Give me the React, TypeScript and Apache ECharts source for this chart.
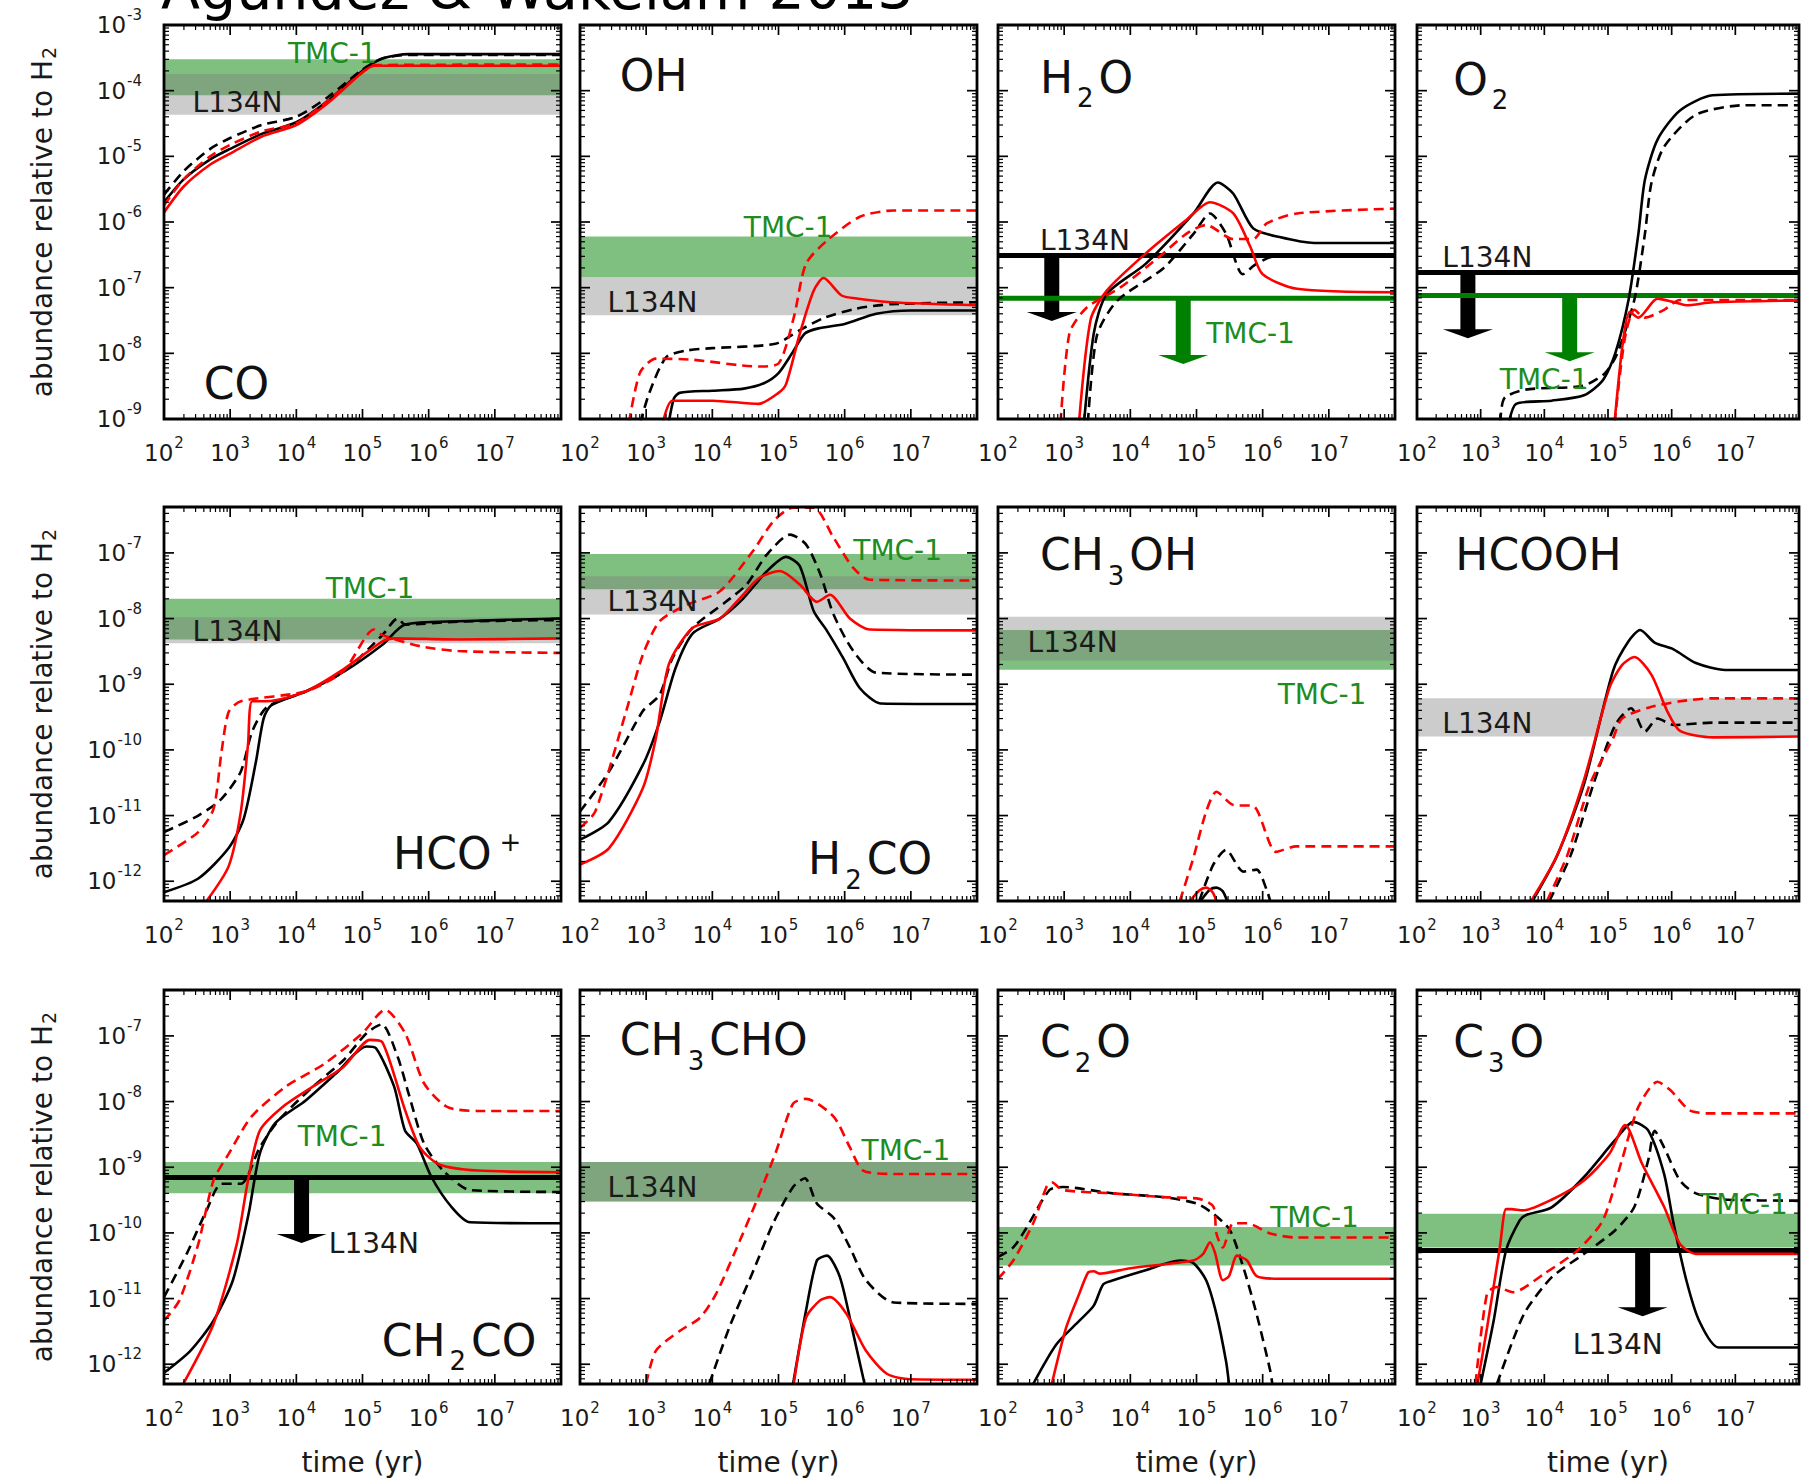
import React, { useEffect, useRef } from 'react';
import * as echarts from 'echarts';

const FONT = 'DejaVu Sans';
const INK = '#1a1a1a';
const RED = '#ff0000';
const GREEN = '#008000';
const GREEN_TEXT = '#1e8c1e';
const GREEN_BAND = 'rgba(0,128,0,0.5)';
const GRAY_BAND = 'rgba(128,128,128,0.4)';

// ---------- axes ----------
const X_MIN = 1e2;
const X_MAX = 1e8;
const ROW_Y_RANGES = [[1e-9, 1e-3], [5e-13, 5e-7], [5e-13, 5e-7]];
const X_HIDDEN_EXP = 8;
const MINOR_MULTS = [2, 3, 4, 5, 6, 7, 8, 9];

const TITLE = 'Agúndez & Wakelam 2013';
const Y_NAME = '{m|abundance relative to H}{sub|2}';
const X_NAME = 'time (yr)';

// ---------- layout ----------
const COL_LEFT = [164, 580, 998, 1417];
const ROW_TOP = [25, 507, 990];
const PANEL_W = 397;
const PANEL_H = 394;

// ---------- data: [time (yr), abundance] ----------
// CO
const CO_BLACK_SOLID = [[1e2,2e-6],[2e2,4.5e-6],[5e2,9e-6],[1e3,1.3e-5],[3e3,2.2e-5],[1e4,3.3e-5],[3e4,7e-5],[1e5,2e-4],[2e5,3.1e-4],[5e5,3.6e-4],[1e8,3.6e-4]];
const CO_BLACK_DASHED = [[1e2,2.6e-6],[2e2,6e-6],[5e2,1.3e-5],[1e3,1.9e-5],[3e3,3e-5],[1e4,4e-5],[3e4,8e-5],[1e5,2.1e-4],[2e5,3.1e-4],[5e5,3.5e-4],[1e8,3.5e-4]];
const CO_RED_SOLID = [[1e2,1.4e-6],[2e2,3.5e-6],[5e2,7.5e-6],[1e3,1.1e-5],[3e3,2e-5],[1e4,3e-5],[3e4,6.5e-5],[1e5,1.9e-4],[1.5e5,2.4e-4],[1e8,2.4e-4]];
const CO_RED_DASHED = [[1e2,1.8e-6],[2e2,4.5e-6],[5e2,1e-5],[1e3,1.5e-5],[3e3,2.4e-5],[1e4,3.2e-5],[3e4,7e-5],[1e5,1.9e-4],[1.5e5,2.45e-4],[1e8,2.5e-4]];
const CO_TMC1 = [8.5e-5, 3e-4];
const CO_L134N = [4.3e-5, 1.8e-4];

// OH
const OH_BLACK_SOLID = [[2e3,5e-10],[2.6e3,2e-9],[3.2e3,2.5e-9],[1e4,2.7e-9],[3e4,2.9e-9],[6e4,3.5e-9],[1e5,5e-9],[1.6e5,1e-8],[2.5e5,2e-8],[4e5,2.4e-8],[1e6,2.8e-8],[3e6,4e-8],[1e7,4.5e-8],[1e8,4.5e-8]];
const OH_BLACK_DASHED = [[7e2,5e-10],[1.1e3,2.4e-9],[2e3,8.7e-9],[4e3,1.1e-8],[1e4,1.2e-8],[9e4,1.4e-8],[2e5,2.2e-8],[5e5,3.5e-8],[1.5e6,4.8e-8],[5e6,5.6e-8],[1e8,6e-8]];
const OH_RED_SOLID = [[1.6e3,5e-10],[2.5e3,1.9e-9],[1e4,1.9e-9],[5e4,1.7e-9],[1e5,2.5e-9],[1.3e5,3.4e-9],[2.1e5,2e-8],[3.4e5,9e-8],[4.8e5,1.4e-7],[9e5,7.6e-8],[1.6e6,6.8e-8],[5e6,6e-8],[1e8,5.4e-8]];
const OH_RED_DASHED = [[5e2,5e-10],[8e2,5e-9],[1.4e3,8.3e-9],[5e3,8e-9],[5e4,6.3e-9],[1e5,7e-9],[1.7e5,3.5e-8],[2.6e5,2.3e-7],[5.4e5,5.2e-7],[1.7e6,1.2e-6],[5.5e6,1.5e-6],[1e8,1.5e-6]];
const OH_TMC1 = [1.45e-7, 6e-7];
const OH_L134N = [3.8e-8, 1.45e-7];

// H2O
const H2O_BLACK_SOLID = [[1.9e3,5e-10],[2.8e3,2e-8],[4.4e3,8e-8],[1.7e4,2.3e-7],[9e4,1.35e-6],[2.1e5,4e-6],[3.6e5,2.7e-6],[7.2e5,8e-7],[1.8e6,5.9e-7],[6e6,4.8e-7],[1e8,4.8e-7]];
const H2O_BLACK_DASHED = [[2.2e3,5e-10],[3.1e3,1.8e-8],[6.3e3,6.3e-8],[3.2e4,2e-7],[9e4,6.6e-7],[1.6e5,1.35e-6],[2.8e5,6.6e-7],[5e5,1.6e-7],[8e5,2.3e-7],[1.5e6,3e-7],[1e8,3e-7]];
const H2O_RED_SOLID = [[1.6e3,5e-10],[2.5e3,3.2e-8],[4.4e3,9e-8],[1.7e4,3.3e-7],[7e4,1.07e-6],[1.6e5,2e-6],[3.6e5,1.35e-6],[6.5e5,4.2e-7],[1e6,1.6e-7],[3.3e6,9.6e-8],[1e8,8.5e-8]];
const H2O_RED_DASHED = [[8.5e2,5e-10],[1.2e3,2e-8],[2.2e3,5e-8],[7e3,1e-7],[2.8e4,3e-7],[7e4,6.6e-7],[1.4e5,9e-7],[3.6e5,5.5e-7],[7.2e5,5.5e-7],[1.15e6,9.5e-7],[3.3e6,1.35e-6],[1e8,1.6e-6]];
const H2O_LIMITS = [[6.5e2, 3.1e-7, 3.1e-8, 0], [6.3e4, 6.9e-8, 6.9e-9, 1]]; // [t, limit, arrow tip, 0=L134N 1=TMC-1]

// O2
const O2_BLACK_SOLID = [[2.5e3,5e-10],[3.6e3,1.7e-9],[1.3e4,1.9e-9],[4.2e4,2.3e-9],[8.3e4,3.9e-9],[1.3e5,1e-8],[2.1e5,6.5e-8],[3e5,6.6e-7],[3.8e5,4.4e-6],[6e5,1.8e-5],[1.35e6,5e-5],[4.4e6,8.5e-5],[1e8,9e-5]];
const O2_BLACK_DASHED = [[2e3,5e-10],[2.3e3,2e-9],[5e3,2.8e-9],[4e4,3.2e-9],[9e4,5e-9],[1.4e5,1e-8],[2.6e5,6.6e-8],[3.8e5,6.6e-7],[4.8e5,3.9e-6],[7.6e5,1.4e-5],[2.4e6,4.3e-5],[1.4e7,6e-5],[1e8,6e-5]];
const O2_RED_SOLID = [[1.2e5,5e-10],[1.7e5,1.4e-8],[2.2e5,4.3e-8],[3e5,3.5e-8],[6e5,6.8e-8],[1.1e6,6e-8],[1.7e6,5.4e-8],[4.4e6,6e-8],[1e8,6.4e-8]];
const O2_RED_DASHED = [[1.2e5,5e-10],[1.8e5,1.5e-8],[2.6e5,4.6e-8],[3.8e5,3.5e-8],[7.6e5,4.6e-8],[1.35e6,6.5e-8],[4.4e6,6.5e-8],[1e8,6.5e-8]];
const O2_LIMITS = [[6.3e2, 1.7e-7, 1.7e-8, 0], [2.5e4, 7.6e-8, 7.6e-9, 1]];

// HCO+
const HCOP_BLACK_SOLID = [[1e2,6.8e-13],[3.3e2,1.1e-12],[9.5e2,3.2e-12],[1.6e3,8.9e-12],[2.45e3,6.6e-11],[3.2e3,3e-10],[4.2e3,4.8e-10],[1.4e4,7.8e-10],[5.2e4,1.55e-9],[2e5,4e-9],[4.4e5,8.1e-9],[2.8e6,9.1e-9],[1e8,1e-8]];
const HCOP_BLACK_DASHED = [[1e2,5.6e-12],[3.3e2,1e-11],[7.4e2,1.8e-11],[1.45e3,4.7e-11],[2.15e3,1.9e-10],[3.6e3,4.5e-10],[1.4e4,7.8e-10],[5.2e4,1.55e-9],[2e5,5.6e-9],[3.4e5,1e-8],[4.4e5,8.1e-9],[2.8e6,9e-9],[1e8,9.5e-9]];
const HCOP_RED_SOLID = [[4.4e2,5e-13],[9.5e2,1.7e-12],[1.45e3,1.15e-11],[1.86e3,1.2e-10],[2.15e3,5.5e-10],[3.6e3,5.5e-10],[1.4e4,7.8e-10],[5.2e4,1.7e-9],[2e5,4.5e-9],[3e5,5e-9],[2.8e6,4.8e-9],[1e8,5e-9]];
const HCOP_RED_DASHED = [[1e2,2.5e-12],[3.3e2,5.6e-12],[5.6e2,1.26e-11],[7.4e2,9.3e-11],[9.5e2,3.8e-10],[1.45e3,5.5e-10],[1.4e4,7.8e-10],[5.2e4,1.6e-9],[1.5e5,6.8e-9],[2e5,5.6e-9],[7.4e5,3.8e-9],[2.8e6,3.2e-9],[1e8,3e-9]];
const HCOP_TMC1 = [4.8e-9, 2e-8];
const HCOP_L134N = [4.2e-9, 1.05e-8];

// H2CO
const H2CO_BLACK_SOLID = [[1e2,4.3e-12],[2.75e2,8.1e-12],[8.9e2,5.9e-11],[1.6e3,2.7e-10],[2.8e3,1.8e-9],[5.1e3,6e-9],[1.3e4,1e-8],[2.9e4,2e-8],[6.6e4,5.2e-8],[1.3e5,8.7e-8],[2.1e5,6.3e-8],[3.4e5,1.3e-8],[5.4e5,6.5e-9],[9.5e5,2.5e-9],[1.7e6,8.7e-10],[3.5e6,5.1e-10],[1e8,5e-10]];
const H2CO_BLACK_DASHED = [[1e2,1.15e-11],[2.75e2,4.7e-11],[8.9e2,3.9e-10],[1.6e3,6.9e-10],[2.5e3,2.5e-9],[5e3,7.2e-9],[1.6e4,1.8e-8],[3.3e4,3.3e-8],[6.6e4,9.3e-8],[1.5e5,1.9e-7],[2.6e5,1.35e-7],[4.3e5,4.7e-8],[6.8e5,1.15e-8],[1.35e6,3.2e-9],[3e6,1.5e-9],[1e8,1.4e-9]];
const H2CO_RED_SOLID = [[1e2,1.8e-12],[2.75e2,3.2e-12],[8.9e2,2.6e-11],[1.4e3,1.5e-10],[2.2e3,2e-9],[5e3,7.2e-9],[1.3e4,1e-8],[2.9e4,2.3e-8],[5.2e4,4.2e-8],[1.05e5,5.3e-8],[2.1e5,3.3e-8],[3.8e5,1.8e-8],[6e5,2.3e-8],[1.2e6,1e-8],[2.4e6,6.8e-9],[1e8,6.6e-9]];
const H2CO_RED_DASHED = [[1e2,6.5e-12],[1.7e2,1.15e-11],[5e2,3.9e-10],[8.9e2,2.8e-9],[1.6e3,9.1e-9],[4e3,1.6e-8],[1.3e4,2.6e-8],[4.2e4,1.1e-7],[8.3e4,3e-7],[1.66e5,4.9e-7],[3.4e5,4.9e-7],[6.8e5,1.7e-7],[1.35e6,5.9e-8],[2.4e6,3.9e-8],[1e8,3.8e-8]];
const H2CO_TMC1 = [2.8e-8, 9.6e-8];
const H2CO_L134N = [1.15e-8, 4.4e-8];

// CH3OH
const CH3OH_BLACK_SOLID = [[1.15e5,5e-13],[1.6e5,7.5e-13],[2e5,8e-13],[2.5e5,7e-13],[2.9e5,5e-13]];
const CH3OH_BLACK_DASHED = [[1.1e5,5e-13],[1.8e5,1.8e-12],[2.8e5,3e-12],[5.1e5,1.4e-12],[8.1e5,1.5e-12],[1.15e6,7.4e-13],[1.3e6,5e-13]];
const CH3OH_RED_SOLID = [[8e4,5e-13],[1.1e5,7.2e-13],[1.4e5,8e-13],[1.75e5,6.8e-13],[2e5,5e-13]];
const CH3OH_RED_DASHED = [[5.6e4,5e-13],[8.9e4,2.2e-12],[1.4e5,1.15e-11],[2e5,2.3e-11],[3.6e5,1.45e-11],[7.2e5,1.4e-11],[1.6e6,2.8e-12],[3.2e6,3.4e-12],[1e8,3.4e-12]];
const CH3OH_TMC1 = [1.66e-9, 6.7e-9];
const CH3OH_L134N = [2.3e-9, 1.07e-8];

// HCOOH
const HCOOH_BLACK_SOLID = [[6.5e3,5e-13],[1.6e4,2.5e-12],[4.2e4,3e-11],[1.2e5,1.6e-9],[2.1e5,4.5e-9],[3.2e5,6.7e-9],[5.4e5,4.3e-9],[1.07e6,3.4e-9],[2.4e6,2.1e-9],[6.9e6,1.65e-9],[1e8,1.65e-9]];
const HCOOH_BLACK_DASHED = [[1.2e4,5e-13],[2.6e4,2.5e-12],[5.9e4,3e-11],[1.3e5,2.4e-10],[2.3e5,4.3e-10],[3.8e5,1.9e-10],[6e5,3e-10],[1.07e6,2.4e-10],[4.4e6,2.6e-10],[1e8,2.6e-10]];
const HCOOH_RED_SOLID = [[6.2e3,5e-13],[1.6e4,2.5e-12],[4.2e4,3.5e-11],[1.05e5,8.7e-10],[1.66e5,1.95e-9],[2.6e5,2.6e-9],[4.8e5,1.4e-9],[8.5e5,3.9e-10],[1.35e6,1.95e-10],[4.4e6,1.55e-10],[1e8,1.6e-10]];
const HCOOH_RED_DASHED = [[1.1e4,5e-13],[2.3e4,2.5e-12],[5.2e4,3e-11],[1.2e5,1.5e-10],[1.66e5,3e-10],[4.3e5,4.4e-10],[1.35e6,5.5e-10],[4.4e6,6.1e-10],[1e8,6.1e-10]];
const HCOOH_L134N = [1.6e-10, 6.1e-10];

// CH2CO
const CH2CO_BLACK_SOLID = [[1e2,7.4e-13],[2.5e2,1.6e-12],[5.6e2,4.6e-12],[1.1e3,1.9e-11],[1.9e3,1.95e-10],[2.8e3,1.6e-9],[4.8e3,4.7e-9],[1.4e4,1.05e-8],[4e4,2.7e-8],[1.15e5,6.9e-8],[1.6e5,6.5e-8],[3e5,1.7e-8],[4.4e5,3.6e-9],[6.6e5,2.3e-9],[1.1e6,7.1e-10],[2.2e6,2.5e-10],[4.2e6,1.45e-10],[1e8,1.4e-10]];
const CH2CO_BLACK_DASHED = [[1e2,1.05e-11],[2.2e2,4.8e-11],[4.4e2,2.2e-10],[7.4e2,5.6e-10],[1.45e3,5.6e-10],[2.8e3,2e-9],[5.4e3,5.2e-9],[1.8e4,1.7e-8],[5.2e4,4.3e-8],[1.15e5,1.1e-7],[1.95e5,1.5e-7],[3.4e5,4.8e-8],[5e5,1.3e-8],[8.5e5,2.3e-9],[1.66e6,8.9e-10],[4.2e6,4.5e-10],[1e8,4.2e-10]];
const CH2CO_RED_SOLID = [[1.95e2,5e-13],[5.6e2,4.1e-12],[1.26e3,6.8e-11],[1.86e3,6.3e-10],[2.8e3,3.6e-9],[6.2e3,8.3e-9],[1.8e4,1.7e-8],[5.2e4,3.4e-8],[1.3e5,8.7e-8],[2e5,8e-8],[4.4e5,7.4e-9],[7.4e5,2e-9],[1.45e6,1.1e-9],[5.5e6,8.9e-10],[1e8,8.4e-10]];
const CH2CO_RED_DASHED = [[1e2,4.6e-12],[1.7e2,9.3e-12],[3.3e2,6.8e-11],[5.6e2,6.3e-10],[9.5e2,1.6e-9],[2.1e3,5.9e-9],[7e3,1.7e-8],[2.7e4,3.8e-8],[1e5,1.1e-7],[2.2e5,2.5e-7],[4.4e5,1.1e-7],[8.5e5,1.9e-8],[1.9e6,8.3e-9],[5.5e6,7.2e-9],[1e8,7.2e-9]];
const CH2CO_TMC1 = [4e-10, 1.2e-9];
const CH2CO_LIMITS = [[1.2e4, 7e-10, 7e-11, 0]];

// CH3CHO
const CH3CHO_BLACK_SOLID = [[1.66e5,5e-13],[2.6e5,6.5e-12],[3.8e5,3.8e-11],[5.4e5,4.5e-11],[8.5e5,2.1e-11],[1.35e6,2.9e-12],[2e6,5e-13]];
const CH3CHO_BLACK_DASHED = [[9e3,5e-13],[1.8e4,3.6e-12],[4.2e4,2.7e-11],[8.3e4,1.4e-10],[1.66e5,5e-10],[2.5e5,6.8e-10],[3.8e5,2.8e-10],[6.8e5,1.7e-10],[1.2e6,6e-11],[2.1e6,1.9e-11],[5.5e6,8.7e-12],[1e8,8.3e-12]];
const CH3CHO_RED_SOLID = [[1.7e5,5e-13],[2.6e5,5.1e-12],[4.2e5,9.3e-12],[6e5,1.05e-11],[1.07e6,5.8e-12],[2.1e6,1.6e-12],[4.4e6,7.1e-13],[9.8e6,5.9e-13],[1e8,5.8e-13]];
const CH3CHO_RED_DASHED = [[1e3,5e-13],[1.4e3,1.6e-12],[3.2e3,3.2e-12],[6.5e3,5.1e-12],[1.15e4,1.2e-11],[2.6e4,7.6e-11],[5.2e4,4e-10],[9.3e4,1.8e-9],[1.66e5,9.3e-9],[2.6e5,1.1e-8],[6.8e5,5.9e-9],[1.2e6,2e-9],[1.9e6,8.9e-10],[5.5e6,7.9e-10],[1e8,7.9e-10]];
const CH3CHO_TMC1 = [3e-10, 1.2e-9];
const CH3CHO_L134N = [3e-10, 1.2e-9];

// C2O
const C2O_BLACK_SOLID = [[3.4e2,5e-13],[7.6e2,2e-12],[1.7e3,4.6e-12],[2.8e3,7.8e-12],[3.9e3,1.65e-11],[5.5e3,1.9e-11],[1.7e4,2.7e-11],[5.6e4,3.8e-11],[8.9e4,3.5e-11],[1.4e5,1.9e-11],[2e5,5.8e-12],[2.8e5,1.1e-12],[3.1e5,5e-13]];
const C2O_BLACK_DASHED = [[1e2,4.3e-11],[1.7e2,6e-11],[2.7e2,1.2e-10],[6e2,4.5e-10],[9.5e2,5e-10],[5.5e3,4e-10],[3.2e4,3.5e-10],[1e5,2.8e-10],[1.8e5,1.95e-10],[3.2e5,1.1e-10],[5.1e5,3e-11],[8.1e5,5.8e-12],[1.3e6,8e-13],[1.4e6,5e-13]];
const C2O_RED_SOLID = [[6.5e2,5e-13],[1.07e3,3.6e-12],[1.7e3,1.2e-11],[2.3e3,2.5e-11],[2.8e3,2.6e-11],[3.4e3,2.4e-11],[1e4,2.9e-11],[8.9e4,3.8e-11],[1.26e5,4.8e-11],[1.6e5,7.2e-11],[1.9e5,5e-11],[2.5e5,1.9e-11],[3.1e5,2.2e-11],[4.1e5,4.5e-11],[5.8e5,3.8e-11],[8.1e5,2.2e-11],[1.8e6,2e-11],[1e8,2e-11]];
const C2O_RED_DASHED = [[1e2,2e-11],[1.7e2,3.8e-11],[3.4e2,1.4e-10],[5.4e2,5e-10],[6.5e2,5.9e-10],[9.5e2,4.5e-10],[5.5e3,4e-10],[3.2e4,3.5e-10],[1.1e5,3.3e-10],[1.8e5,2.5e-10],[2e5,9.8e-11],[2.5e5,6e-11],[3.6e5,1.4e-10],[5.8e5,1.4e-10],[1.3e6,9.8e-11],[3.2e6,8.5e-11],[1e8,8.5e-11]];
const C2O_TMC1 = [3.2e-11, 1.23e-10];

// C3O
const C3O_BLACK_SOLID = [[1e3,5e-13],[1.6e3,4.6e-12],[2.5e3,5.4e-11],[4.1e3,1.55e-10],[5.1e3,1.86e-10],[1.3e4,2.45e-10],[4.2e4,7.1e-10],[1.3e5,2.6e-9],[2.5e5,4.9e-9],[4.3e5,3.6e-9],[7.6e5,7.9e-10],[1.07e6,1.4e-10],[1.7e6,1.9e-11],[2.7e6,4.6e-12],[5.5e6,1.8e-12],[1e8,1.8e-12]];
const C3O_BLACK_DASHED = [[1.8e3,5e-13],[3.2e3,2.3e-12],[5.1e3,6.5e-12],[1.3e4,2.1e-11],[4.2e4,4.8e-11],[1.3e5,1.1e-10],[2.6e5,2.5e-10],[4.3e5,1.3e-9],[5.4e5,3.6e-9],[7.6e5,2e-9],[1.35e6,6.3e-10],[2.4e6,4e-10],[7.8e6,3.2e-10],[1e8,3.1e-10]];
const C3O_RED_SOLID = [[8.9e2,5e-13],[1.26e3,3.6e-12],[2e3,6e-11],[2.5e3,2.3e-10],[3e3,2.3e-10],[4.6e3,2.2e-10],[1.3e4,3.2e-10],[4.2e4,6.3e-10],[1.05e5,1.6e-9],[1.86e5,4.4e-9],[3.4e5,1.15e-9],[7.6e5,2.5e-10],[1.35e6,6.8e-11],[2.4e6,4.8e-11],[1e8,4.8e-11]];
const C3O_RED_DASHED = [[8.3e2,5e-13],[1.26e3,1.2e-11],[1.8e3,1.5e-11],[3.2e3,1.25e-11],[1e4,2.4e-11],[3.3e4,5.4e-11],[8.3e4,1.55e-10],[1.66e5,1.3e-9],[3e5,8.3e-9],[6e5,2e-8],[9.5e5,1.5e-8],[1.9e6,7.4e-9],[3.8e6,6.6e-9],[1e8,6.6e-9]];
const C3O_TMC1 = [6e-11, 1.95e-10];
const C3O_LIMITS = [[3.5e5, 5.4e-11, 5.4e-12, 0]];

// ---------- annotations: [t, y, text, kind (0 name, 1 TMC-1, 2 L134N), align] ----------
const CO_TEXTS = [[3.5e4, 3.7e-4, 'TMC-1', 1, 'center'], [2.7e2, 6.5e-5, 'L134N', 2, 'left'], [4e2, 3.5e-9, '{n|CO}', 0, 'left']];
const OH_TEXTS = [[4e2, 1.7e-4, '{n|OH}', 0, 'left'], [1.4e5, 8.3e-7, 'TMC-1', 1, 'center'], [2.6e2, 6e-8, 'L134N', 2, 'left']];
const H2O_TEXTS = [[4.3e2, 1.6e-4, '{n|H}{sub|2}{n|O}', 0, 'left'], [4.3e2, 5.2e-7, 'L134N', 2, 'left'], [1.4e5, 2e-8, 'TMC-1', 1, 'left']];
const O2_TEXTS = [[3.7e2, 1.5e-4, '{n|O}{sub|2}', 0, 'left'], [2.5e2, 2.9e-7, 'L134N', 2, 'left'], [2e3, 4e-9, 'TMC-1', 1, 'left']];
const HCOP_TEXTS = [[2.9e5, 2.6e-12, '{n|HCO}{sup|+}', 0, 'left'], [1.3e5, 2.9e-8, 'TMC-1', 1, 'center'], [2.7e2, 6.3e-9, 'L134N', 2, 'left']];
const H2CO_TEXTS = [[2.8e5, 2.2e-12, '{n|H}{sub|2}{n|CO}', 0, 'left'], [1.35e6, 1.1e-7, 'TMC-1', 1, 'left'], [2.6e2, 1.8e-8, 'L134N', 2, 'left']];
const CH3OH_TEXTS = [[4.3e2, 9.4e-8, '{n|CH}{sub|3}{n|OH}', 0, 'left'], [2.8e2, 4.3e-9, 'L134N', 2, 'left'], [3.7e7, 6.9e-10, 'TMC-1', 1, 'right']];
const HCOOH_TEXTS = [[4e2, 9.4e-8, '{n|HCOOH}', 0, 'left'], [2.5e2, 2.5e-10, 'L134N', 2, 'left']];
const CH2CO_TEXTS = [[1.95e5, 2.3e-12, '{n|CH}{sub|2}{n|CO}', 0, 'left'], [1.05e4, 2.9e-9, 'TMC-1', 1, 'left'], [3.1e4, 6.8e-11, 'L134N', 2, 'left']];
const CH3CHO_TEXTS = [[4e2, 8.7e-8, '{n|CH}{sub|3}{n|CHO}', 0, 'left'], [2.6e2, 5e-10, 'L134N', 2, 'left'], [1.8e6, 1.8e-9, 'TMC-1', 1, 'left']];
const C2O_TEXTS = [[4.3e2, 8.2e-8, '{n|C}{sub|2}{n|O}', 0, 'left'], [1.3e6, 1.7e-10, 'TMC-1', 1, 'left']];
const C3O_TEXTS = [[3.7e2, 8.2e-8, '{n|C}{sub|3}{n|O}', 0, 'left'], [2.7e6, 2.75e-10, 'TMC-1', 1, 'left'], [2.8e4, 2e-12, 'L134N', 2, 'left']];

const PANELS = [
  { row: 0, col: 0, bs: CO_BLACK_SOLID, bd: CO_BLACK_DASHED, rs: CO_RED_SOLID, rd: CO_RED_DASHED, tmc: CO_TMC1, l134: CO_L134N, limits: [], texts: CO_TEXTS },
  { row: 0, col: 1, bs: OH_BLACK_SOLID, bd: OH_BLACK_DASHED, rs: OH_RED_SOLID, rd: OH_RED_DASHED, tmc: OH_TMC1, l134: OH_L134N, limits: [], texts: OH_TEXTS },
  { row: 0, col: 2, bs: H2O_BLACK_SOLID, bd: H2O_BLACK_DASHED, rs: H2O_RED_SOLID, rd: H2O_RED_DASHED, tmc: null, l134: null, limits: H2O_LIMITS, texts: H2O_TEXTS },
  { row: 0, col: 3, bs: O2_BLACK_SOLID, bd: O2_BLACK_DASHED, rs: O2_RED_SOLID, rd: O2_RED_DASHED, tmc: null, l134: null, limits: O2_LIMITS, texts: O2_TEXTS },
  { row: 1, col: 0, bs: HCOP_BLACK_SOLID, bd: HCOP_BLACK_DASHED, rs: HCOP_RED_SOLID, rd: HCOP_RED_DASHED, tmc: HCOP_TMC1, l134: HCOP_L134N, limits: [], texts: HCOP_TEXTS },
  { row: 1, col: 1, bs: H2CO_BLACK_SOLID, bd: H2CO_BLACK_DASHED, rs: H2CO_RED_SOLID, rd: H2CO_RED_DASHED, tmc: H2CO_TMC1, l134: H2CO_L134N, limits: [], texts: H2CO_TEXTS },
  { row: 1, col: 2, bs: CH3OH_BLACK_SOLID, bd: CH3OH_BLACK_DASHED, rs: CH3OH_RED_SOLID, rd: CH3OH_RED_DASHED, tmc: CH3OH_TMC1, l134: CH3OH_L134N, limits: [], texts: CH3OH_TEXTS },
  { row: 1, col: 3, bs: HCOOH_BLACK_SOLID, bd: HCOOH_BLACK_DASHED, rs: HCOOH_RED_SOLID, rd: HCOOH_RED_DASHED, tmc: null, l134: HCOOH_L134N, limits: [], texts: HCOOH_TEXTS },
  { row: 2, col: 0, bs: CH2CO_BLACK_SOLID, bd: CH2CO_BLACK_DASHED, rs: CH2CO_RED_SOLID, rd: CH2CO_RED_DASHED, tmc: CH2CO_TMC1, l134: null, limits: CH2CO_LIMITS, texts: CH2CO_TEXTS },
  { row: 2, col: 1, bs: CH3CHO_BLACK_SOLID, bd: CH3CHO_BLACK_DASHED, rs: CH3CHO_RED_SOLID, rd: CH3CHO_RED_DASHED, tmc: CH3CHO_TMC1, l134: CH3CHO_L134N, limits: [], texts: CH3CHO_TEXTS },
  { row: 2, col: 2, bs: C2O_BLACK_SOLID, bd: C2O_BLACK_DASHED, rs: C2O_RED_SOLID, rd: C2O_RED_DASHED, tmc: C2O_TMC1, l134: null, limits: [], texts: C2O_TEXTS },
  { row: 2, col: 3, bs: C3O_BLACK_SOLID, bd: C3O_BLACK_DASHED, rs: C3O_RED_SOLID, rd: C3O_RED_DASHED, tmc: C3O_TMC1, l134: null, limits: C3O_LIMITS, texts: C3O_TEXTS },
];

// ---------- styles ----------
const TICK_RICH = {
  b: { fontSize: 23, fontFamily: FONT, color: INK, verticalAlign: 'middle' },
  s: { fontSize: 15, fontFamily: FONT, color: INK, verticalAlign: 'middle', padding: [0, 0, 20, 1] },
};
const YNAME_RICH = {
  m: { fontSize: 28, fontFamily: FONT, color: INK, verticalAlign: 'middle' },
  sub: { fontSize: 19, fontFamily: FONT, color: INK, verticalAlign: 'middle', padding: [12, 0, 0, 1] },
};
const LABEL_RICH = {
  n: { fontSize: 44, fontFamily: FONT, fill: '#111', verticalAlign: 'middle' },
  sub: { fontSize: 26, fontFamily: FONT, fill: '#111', verticalAlign: 'middle', padding: [42, 5, 0, 4] },
  sup: { fontSize: 26, fontFamily: FONT, fill: '#111', verticalAlign: 'middle', padding: [0, 0, 23, 8] },
};

function powLabel(v: number, hidden?: number) {
  const e = Math.log10(v);
  const r = Math.round(e);
  if (Math.abs(e - r) > 1e-6 || r === hidden) return '';
  return `{b|10}{s|${r}}`;
}

function decadesInside(lo: number, hi: number) {
  const out: number[] = [];
  for (let e = Math.floor(Math.log10(lo)); e <= Math.ceil(Math.log10(hi)); e++) {
    const v = Math.pow(10, e);
    if (v > lo * 1.0001 && v < hi * 0.9999) out.push(v);
  }
  return out;
}
function minorsInside(lo: number, hi: number) {
  const out: number[] = [];
  for (let e = Math.floor(Math.log10(lo)); e <= Math.ceil(Math.log10(hi)); e++) {
    for (const m of MINOR_MULTS) {
      const v = m * Math.pow(10, e);
      if (v > lo * 1.0001 && v < hi * 0.9999) out.push(v);
    }
  }
  return out;
}

function buildOption() {
  const grid: any[] = [];
  const xAxis: any[] = [];
  const yAxis: any[] = [];
  const series: any[] = [];

  PANELS.forEach((p: any, g: number) => {
    const [yMin, yMax] = ROW_Y_RANGES[p.row];
    grid.push({ left: COL_LEFT[p.col], top: ROW_TOP[p.row], width: PANEL_W, height: PANEL_H, show: false });
    xAxis.push({
      type: 'log', logBase: 10, gridIndex: g, min: X_MIN, max: X_MAX, position: 'bottom', splitNumber: 6,
      axisLine: { show: false, onZero: false }, axisTick: { show: false }, splitLine: { show: false },
      axisLabel: { show: true, margin: 16, formatter: (v: number) => powLabel(v, X_HIDDEN_EXP), rich: TICK_RICH },
      name: p.row === 2 ? X_NAME : '', nameLocation: 'middle', nameGap: 64,
      nameTextStyle: { fontSize: 28, fontFamily: FONT, color: INK },
    });
    yAxis.push({
      type: 'log', logBase: 10, gridIndex: g, min: yMin, max: yMax, position: 'left', splitNumber: 6,
      axisLine: { show: false, onZero: false }, axisTick: { show: false }, splitLine: { show: false },
      axisLabel: { show: p.col === 0, margin: 22, formatter: (v: number) => powLabel(v), rich: TICK_RICH },
      name: p.col === 0 ? Y_NAME : '', nameLocation: 'middle', nameRotate: 90, nameGap: 106,
      nameTextStyle: { fontSize: 28, fontFamily: FONT, color: INK, rich: YNAME_RICH },
    });

    // bands: TMC-1 (green) then L134N (gray)
    const bands: any[] = [];
    if (p.tmc) bands.push({ v: p.tmc, color: GREEN_BAND });
    if (p.l134) bands.push({ v: p.l134, color: GRAY_BAND });
    if (bands.length) {
      series.push({
        type: 'custom', xAxisIndex: g, yAxisIndex: g, z: 1, silent: true, clip: true,
        data: bands.map((b) => [X_MIN, b.v[0], X_MAX, b.v[1]]),
        encode: { x: [0, 2], y: [1, 3] },
        renderItem: (params: any, api: any) => {
          const b = bands[params.dataIndex];
          const a = api.coord([api.value(0), api.value(3)]);
          const c = api.coord([api.value(2), api.value(1)]);
          return { type: 'rect', shape: { x: a[0], y: a[1], width: c[0] - a[0], height: c[1] - a[1] }, style: { fill: b.color } };
        },
      });
    }

    // upper limits: thick line + arrow
    if (p.limits.length) {
      series.push({
        type: 'custom', xAxisIndex: g, yAxisIndex: g, z: 2, silent: true, clip: true,
        data: p.limits.map((l: any) => [l[0], l[1], l[2], l[3]]),
        encode: { x: 0, y: [1, 2] },
        renderItem: (params: any, api: any) => {
          const cs = params.coordSys;
          const color = api.value(3) === 1 ? GREEN : '#000';
          const top = api.coord([api.value(0), api.value(1)]);
          const tip = api.coord([api.value(0), api.value(2)]);
          const x = top[0];
          const sw = 7.5, hw = 25, hh = 9;
          const yb = tip[1] - hh;
          return {
            type: 'group',
            children: [
              { type: 'line', shape: { x1: cs.x, y1: top[1], x2: cs.x + cs.width, y2: top[1] }, style: { stroke: color, lineWidth: 5 } },
              {
                type: 'polygon',
                shape: { points: [[x - sw, top[1]], [x + sw, top[1]], [x + sw, yb], [x + hw, yb], [x, tip[1]], [x - hw, yb], [x - sw, yb]] },
                style: { fill: color },
              },
            ],
          };
        },
      });
    }

    const line = (data: number[][], color: string, dashed: boolean, z: number) => ({
      type: 'line', xAxisIndex: g, yAxisIndex: g, data, showSymbol: false, symbol: 'none', smooth: 0.25,
      lineStyle: { color, width: 2.6, type: dashed ? [10, 6] : 'solid' }, itemStyle: { color },
      z, silent: true, clip: true,
    });
    series.push(line(p.bd, '#000', true, 3));
    series.push(line(p.bs, '#000', false, 3));
    series.push(line(p.rd, RED, true, 3));
    series.push(line(p.rs, RED, false, 3));

    // annotations
    const texts = p.texts;
    series.push({
      type: 'custom', xAxisIndex: g, yAxisIndex: g, z: 5, silent: true, clip: false,
      data: texts.map((t: any) => [t[0], t[1]]),
      encode: { x: 0, y: 1 },
      renderItem: (params: any, api: any) => {
        const t = texts[params.dataIndex];
        const pt = api.coord([api.value(0), api.value(1)]);
        const kind = t[3];
        const style: any = { text: t[2], fontFamily: FONT, align: t[4], verticalAlign: 'middle' };
        if (kind === 0) { style.fontSize = 44; style.fill = '#111'; style.rich = LABEL_RICH; }
        else if (kind === 1) { style.fontSize = 28; style.fill = GREEN_TEXT; }
        else { style.fontSize = 28; style.fill = INK; }
        return { type: 'text', x: pt[0], y: pt[1], style };
      },
    });

    // ticks (all four sides) + frame
    const tickData: number[][] = [];
    decadesInside(X_MIN, X_MAX).forEach((v) => tickData.push([v, yMin, 0, 1]));
    minorsInside(X_MIN, X_MAX).forEach((v) => tickData.push([v, yMin, 0, 0]));
    decadesInside(yMin, yMax).forEach((v) => tickData.push([X_MIN, v, 1, 1]));
    minorsInside(yMin, yMax).forEach((v) => tickData.push([X_MIN, v, 1, 0]));
    tickData.push([X_MIN, yMin, 2, 0]);
    series.push({
      type: 'custom', xAxisIndex: g, yAxisIndex: g, z: 8, silent: true, clip: false,
      data: tickData, encode: { x: 0, y: 1 },
      renderItem: (params: any, api: any) => {
        const cs = params.coordSys;
        const kind = api.value(2);
        if (kind === 2) {
          return { type: 'rect', shape: { x: cs.x, y: cs.y, width: cs.width, height: cs.height }, style: { fill: 'none', stroke: '#000', lineWidth: 2.8 } };
        }
        const major = api.value(3) === 1;
        const len = major ? 10 : 5;
        const style = { stroke: '#000', lineWidth: major ? 1.7 : 1.2 };
        const pt = api.coord([api.value(0), api.value(1)]);
        if (kind === 0) {
          const x = pt[0], yb = cs.y + cs.height, yt = cs.y;
          return {
            type: 'group',
            children: [
              { type: 'line', shape: { x1: x, y1: yb, x2: x, y2: yb - len }, style },
              { type: 'line', shape: { x1: x, y1: yt, x2: x, y2: yt + len }, style },
            ],
          };
        }
        const y = pt[1], xl = cs.x, xr = cs.x + cs.width;
        return {
          type: 'group',
          children: [
            { type: 'line', shape: { x1: xl, y1: y, x2: xl + len, y2: y }, style },
            { type: 'line', shape: { x1: xr, y1: y, x2: xr - len, y2: y }, style },
          ],
        };
      },
    });
  });

  return {
    animation: false,
    backgroundColor: '#ffffff',
    textStyle: { fontFamily: FONT },
    grid, xAxis, yAxis, series,
    graphic: [
      { type: 'text', x: 161, y: -11, silent: true, style: { text: TITLE, fontSize: 57, fontFamily: FONT, fill: '#000', align: 'left', verticalAlign: 'middle' } },
    ],
  };
}

export default function App() {
  const ref = useRef<HTMLDivElement>(null);
  useEffect(() => {
    document.body.style.margin = '0';
    const chart = echarts.init(ref.current as HTMLDivElement, null, { renderer: 'svg' });
    chart.setOption(buildOption() as any);
    return () => chart.dispose();
  }, []);
  return <div ref={ref} style={{ width: 1802, height: 1484 }} />;
}
